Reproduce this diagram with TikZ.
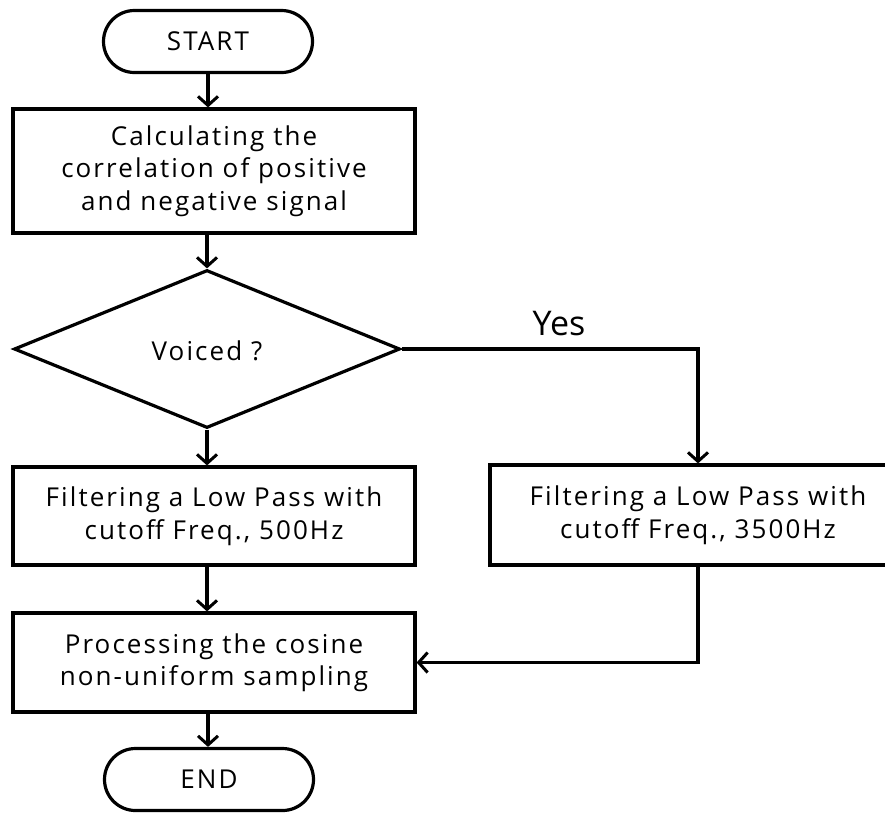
\documentclass[tikz,border=0pt]{standalone}
\usepackage{fontspec}
\setmainfont{Open Sans}[LetterSpace=8]
\newfontfamily\yesfont{Open Sans}
\usetikzlibrary{arrows.meta,shapes.misc,shapes.geometric}
\begin{document}
\begin{tikzpicture}[x=1pt,y=-1pt,
  line width=3.2pt,
  every node/.style={font=\fontsize{26}{32.5}\selectfont, align=center, inner sep=0pt},
  term/.style={draw, rounded rectangle, minimum width=209pt, minimum height=62pt},
  proc/.style={draw, rectangle, minimum width=402pt},
  dec/.style={draw, diamond, minimum width=386pt, minimum height=158pt},
  arr/.style={-{Straight Barb[length=9pt,width=20pt,line width=3pt]}},
  conn/.style={line width=3.2pt, line join=miter}]
\useasboundingbox (0,0) rectangle (885,812);
\node[term] (start) at (208,41.5) {START};
\node[proc, minimum height=124pt] (calc) at (214,171) {Calculating the\\correlation of positive\\and negative signal};
\node[dec] (voiced) at (207,349) {};
\node at (207,351) {Voiced ?};
\node[font=\yesfont\fontsize{34}{40}\selectfont] (yes) at (559,324) {Yes};
\node[proc, minimum height=98pt] (low) at (214,516) {Filtering a Low Pass with\\cutoff Freq., 500Hz};
\node[proc, minimum width=416pt, minimum height=100pt] (high) at (698,515) {Filtering a Low Pass with\\cutoff Freq., 3500Hz};
\node[proc, minimum height=99pt] (cos) at (214,662.5) {Processing the cosine\\non-uniform sampling};
\node[term] (end) at (209,779.5) {END};
\draw[conn,arr] (start.south) -- (start.south |- calc.north);
\draw[conn,arr] (voiced.north |- calc.south) -- (voiced.north);
\draw[conn,arr] (voiced.south) -- (voiced.south |- low.north);
\draw[conn,arr] (voiced.east) -| (high.north);
\draw[conn,arr] (voiced.south |- low.south) -- (voiced.south |- cos.north);
\draw[conn,arr] (high.south) |- (cos.east);
\draw[conn,arr] (start.south |- cos.south) -- (start.south |- end.north);
\end{tikzpicture}
\end{document}
